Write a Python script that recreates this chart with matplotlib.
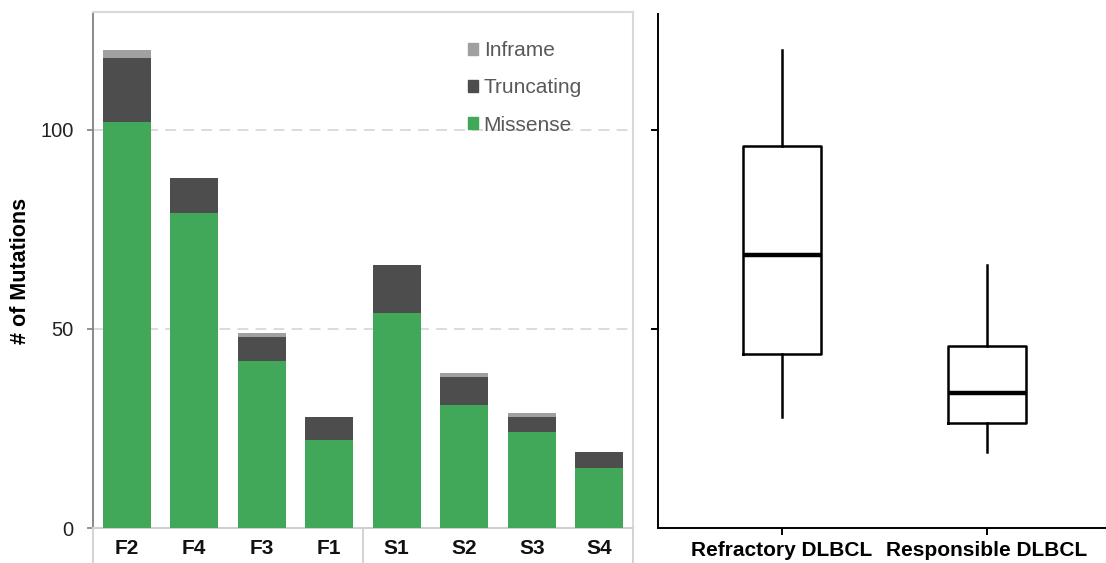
import matplotlib
matplotlib.use("Agg")
import matplotlib.pyplot as plt
import matplotlib.transforms as mtransforms
from matplotlib.patches import Patch
import numpy as np

plt.rcParams['font.family'] = ['Liberation Sans', 'DejaVu Sans']

samples = ["F2", "F4", "F3", "F1", "S1", "S2", "S3", "S4"]
missense = [102, 79, 42, 22, 54, 31, 24, 15]
truncating = [16, 9, 6, 6, 12, 7, 4, 4]
inframe = [2, 0, 1, 0, 0, 1, 1, 0]
refractory_samples = ["F2", "F4", "F3", "F1"]
responsive_samples = ["S1", "S2", "S3", "S4"]
group_labels = ["Refractory DLBCL", "Responsible DLBCL"]
yticks = [0, 50, 100]

c_miss = "#41a85a"
c_trunc = "#4d4d4d"
c_infr = "#a0a0a0"

W, H = 1106, 563
fig = plt.figure(figsize=(W / 100, H / 100), dpi=100)

def ax_rect(x0, y0, x1, y1):
    return [x0 / W, 1 - y1 / H, (x1 - x0) / W, (y1 - y0) / H]

ax = fig.add_axes(ax_rect(93, 12, 633, 528))
x = np.arange(len(samples))
miss = np.array(missense)
trunc = np.array(truncating)
infr = np.array(inframe)
bw = 0.71
ax.bar(x, miss, width=bw, color=c_miss, zorder=3)
ax.bar(x, trunc, width=bw, bottom=miss, color=c_trunc, zorder=3)
ax.bar(x, infr, width=bw, bottom=miss + trunc, color=c_infr, zorder=3)
ax.set_xlim(-0.5, len(samples) - 0.5)
ax.set_ylim(0, 129.6)
ax.set_yticks(yticks)
ax.set_yticklabels([str(t) for t in yticks], fontsize=14.5, color="#222222")
ax.set_xticks(x)
ax.set_xticklabels(samples, fontsize=15, fontweight="bold", color="#111111")
ax.tick_params(axis="x", length=0, pad=8)
ax.tick_params(axis="y", length=4, width=1.2, color="#808080", pad=10)
for t in [50, 100]:
    ax.axhline(t, color="#d9d9d9", lw=1.3, ls=(0, (6, 4)), zorder=1)
for s in ["top", "right"]:
    ax.spines[s].set_color("#d9d9d9")
    ax.spines[s].set_linewidth(1.5)
ax.spines["bottom"].set_color("#d0d0d0")
ax.spines["bottom"].set_linewidth(1.5)
ax.spines["left"].set_color("#808080")
ax.spines["left"].set_linewidth(1.3)
trans = mtransforms.blended_transform_factory(ax.transData, ax.transAxes)
for xs in [-0.5, 3.5, 7.5]:
    ax.plot([xs, xs], [0, -0.08], transform=trans, color="#d0d0d0", lw=1.3, clip_on=False)

handles = [Patch(color=c_infr, label="Inframe"),
           Patch(color=c_trunc, label="Truncating"),
           Patch(color=c_miss, label="Missense")]
leg = ax.legend(handles=handles, loc="upper left", bbox_to_anchor=(468 / W, 1 - 41 / H),
                bbox_transform=fig.transFigure, frameon=False, fontsize=15,
                handlelength=0.5, handleheight=0.5, handletextpad=0.25,
                labelspacing=0.88, borderpad=0, borderaxespad=0)
for t in leg.get_texts():
    t.set_color("#595959")

fig.text(21 / W, 1 - 271 / H, "# of Mutations", rotation=90, ha="center", va="center",
         fontsize=15.5, fontweight="bold")

# Right panel: box plots of total mutations per group
totals = dict(zip(samples, miss + trunc + infr))
groups = [[totals[s] for s in refractory_samples], [totals[s] for s in responsive_samples]]
ax2 = fig.add_axes(ax_rect(658, 14, 1106, 528))
ax2.boxplot(groups, positions=[1, 2], widths=0.38, whis=(0, 100), showcaps=False,
            showfliers=False,
            boxprops=dict(color="black", lw=1.8),
            whiskerprops=dict(color="black", lw=1.8),
            medianprops=dict(color="black", lw=3.2))
ax2.set_xlim(0.395, 2.58)
ax2.set_ylim(0, (528 - 14) / 3.98)
ax2.set_yticks(yticks[1:])
ax2.set_yticklabels([])
ax2.set_xticks([1, 2])
ax2.set_xticklabels(group_labels, fontsize=15, fontweight="bold")
ax2.tick_params(axis="both", length=5, width=1.4, color="black")
ax2.tick_params(axis="x", pad=4)
for s in ["top", "right"]:
    ax2.spines[s].set_visible(False)
for s in ["left", "bottom"]:
    ax2.spines[s].set_linewidth(1.4)

fig.savefig("out.png", dpi=100)
